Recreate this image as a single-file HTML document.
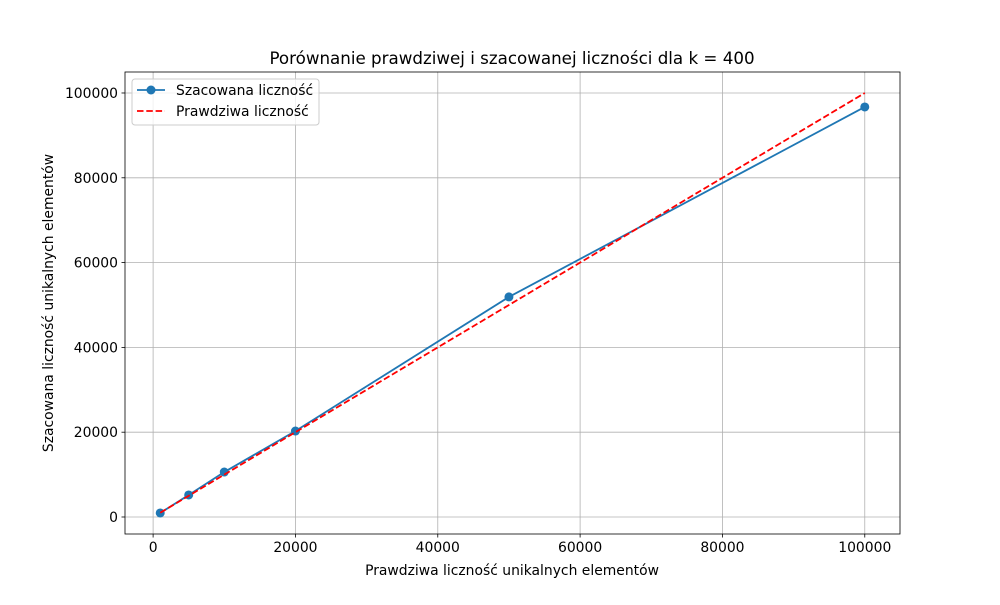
<!DOCTYPE html>
<html><head><meta charset="utf-8"><style>
body{margin:0;background:#fff;}
svg text{font-family:"DejaVu Sans","Liberation Sans",sans-serif;}
</style></head><body>
<svg id="chart" width="1000" height="600" xmlns="http://www.w3.org/2000/svg"></svg>
<script>
const categories = [1000, 5000, 10000, 20000, 50000, 100000];
const estimated = [950, 5190, 10600, 20280, 51900, 96700];
const trueVals = [1000, 5000, 10000, 20000, 50000, 100000];
const xTicks = [0, 20000, 40000, 60000, 80000, 100000];
const yTicks = [0, 20000, 40000, 60000, 80000, 100000];

const L=125,R=900,T=72,B=534;
const xMin=-3950,xMax=104950,yMin=-4010,yMax=104950;
const sx=v=>L+(v-xMin)/(xMax-xMin)*(R-L);
const sy=v=>B-(v-yMin)/(yMax-yMin)*(B-T);
const svg=document.getElementById('chart');
const NS='http://www.w3.org/2000/svg';
function mk(tag,attrs,parent){const e=document.createElementNS(NS,tag);for(const k in attrs)e.setAttribute(k,attrs[k]);(parent||svg).appendChild(e);return e;}

xTicks.forEach(v=>{
  const g=mk('line',{x1:sx(v),x2:sx(v),y1:T,y2:B,stroke:'#b0b0b0','stroke-width':0.8});
  
  
  mk('line',{x1:sx(v),x2:sx(v),y1:B,y2:B+3.5,stroke:'#000','stroke-width':0.8});
  const t=mk('text',{x:sx(v),y:B+18,'font-size':13.9,'text-anchor':'middle'});
  t.textContent=v;
  
  
});
yTicks.forEach(v=>{
  const g=mk('line',{x1:L,x2:R,y1:sy(v),y2:sy(v),stroke:'#b0b0b0','stroke-width':0.8});
  
  
  mk('line',{x1:L-3.5,x2:L,y1:sy(v),y2:sy(v),stroke:'#000','stroke-width':0.8});
  const t=mk('text',{x:L-7,y:sy(v)+5,'font-size':13.9,'text-anchor':'end'});
  t.textContent=v;
  
  
});

const est=mk('polyline',{points:categories.map((c,i)=>sx(c)+','+sy(estimated[i])).join(' '),fill:'none',stroke:'#1f77b4','stroke-width':1.8});


categories.forEach((c,i)=>{
  const p=mk('circle',{cx:sx(c),cy:sy(estimated[i]),r:4.5,fill:'#1f77b4'});
  
  
});
const tr=mk('polyline',{points:categories.map((c,i)=>sx(c)+','+sy(trueVals[i])).join(' '),fill:'none',stroke:'#ff0000','stroke-width':1.8,'stroke-dasharray':'6.5,2.8'});



const frame=mk('rect',{x:L,y:T,width:R-L,height:B-T,fill:'none',stroke:'#000','stroke-width':0.8});


</script>
<svg width="1000" height="600" style="position:absolute;left:0;top:0" xmlns="http://www.w3.org/2000/svg">
<text x="512" y="64" font-size="16.7" text-anchor="middle">Porównanie prawdziwej i szacowanej liczności dla k = 400</text>
<text x="512" y="575" font-size="13.9" text-anchor="middle">Prawdziwa liczność unikalnych elementów</text>
<text x="53" y="303" font-size="13.9" text-anchor="middle" transform="rotate(-90 53 303)">Szacowana liczność unikalnych elementów</text>
<g>
<rect x="132" y="79" width="187" height="46" rx="3" fill="#fff" fill-opacity="0.8" stroke="#ccc"/>
<g>
<line x1="137" x2="165" y1="90" y2="90" stroke="#1f77b4" stroke-width="1.8"/>
<circle cx="151" cy="90" r="4.5" fill="#1f77b4"/>
<text x="176" y="95" font-size="13.9">Szacowana liczność</text></g>
<g>
<line x1="137" x2="165" y1="111" y2="111" stroke="#f00" stroke-width="1.8" stroke-dasharray="6.5,2.8"/>
<text x="176" y="116" font-size="13.9">Prawdziwa liczność</text></g>
</g>
</svg>
</body></html>
